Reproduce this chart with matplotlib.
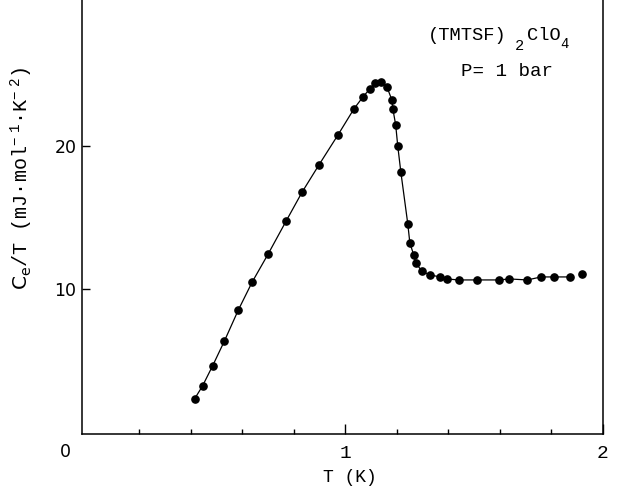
import numpy as np
import matplotlib
matplotlib.use("Agg")
import matplotlib.pyplot as plt
from matplotlib.ticker import FixedLocator, NullFormatter

plt.rcParams["mathtext.fontset"] = "custom"
plt.rcParams["mathtext.rm"] = "Liberation Mono"
plt.rcParams["mathtext.sf"] = "DejaVu Sans"

MONO = "Liberation Mono"

# ----------------------------
# Data: T (K) and Ce/T (mJ mol^-1 K^-2)
# ----------------------------
T_K = [0.414, 0.445, 0.484, 0.530, 0.584, 0.638, 0.700, 0.770, 0.832, 0.897,
       0.971, 1.033, 1.068, 1.095, 1.114, 1.137, 1.161, 1.180, 1.184, 1.195,
       1.203, 1.215, 1.242, 1.250, 1.265, 1.273, 1.296, 1.327, 1.369, 1.393,
       1.439, 1.509, 1.598, 1.636, 1.706, 1.760, 1.810, 1.872]
CE_T = [2.31, 3.22, 4.62, 6.36, 8.53, 10.49, 12.45, 14.76, 16.78, 18.67,
        20.77, 22.59, 23.43, 23.99, 24.41, 24.48, 24.13, 23.22, 22.59, 21.47,
        20.00, 18.18, 14.55, 13.22, 12.38, 11.82, 11.26, 10.98, 10.84, 10.70,
        10.63, 10.63, 10.63, 10.70, 10.63, 10.84, 10.84, 10.84]

# last point drawn without a connecting line
T_LAST = [1.919]
CE_T_LAST = [11.05]

X_MAJOR = [1, 2]
X_MINOR = [0.2, 0.4, 0.6, 0.8, 1.2, 1.4, 1.6, 1.8]
Y_TICKS = [10, 20]


fig = plt.figure(figsize=(6.23, 4.98), dpi=100)
ax = fig.add_axes([82 / 623, 64 / 498, (603 - 82) / 623, 434 / 498])

ax.plot(T_K, CE_T, color="black", linewidth=0.9, marker="o", markersize=5.2,
        markerfacecolor="black", markeredgecolor="black")
ax.plot(T_LAST, CE_T_LAST, linestyle="none", marker="o", markersize=5.2, color="black")

ax.set_xlim(-0.023, 2.0)
ax.set_ylim(-0.14, 30.2)

ax.spines["top"].set_visible(False)
for s in ["left", "right", "bottom"]:
    ax.spines[s].set_linewidth(1.1)

ax.xaxis.set_major_locator(FixedLocator(X_MAJOR))
ax.xaxis.set_minor_locator(FixedLocator(X_MINOR))
ax.xaxis.set_minor_formatter(NullFormatter())
ax.set_xticklabels([str(v) for v in X_MAJOR], fontfamily=MONO, fontsize=14)
ax.tick_params(axis="x", which="major", direction="in", length=7, width=1.0, pad=8)
ax.tick_params(axis="x", which="minor", direction="in", length=3.6, width=1.0)

ax.set_yticks(Y_TICKS)
ax.set_yticklabels([str(v) for v in Y_TICKS], fontfamily="DejaVu Sans", fontsize=12.5)
ax.tick_params(axis="y", direction="in", length=6, width=1.0, pad=4)

# origin label
fig.text(65 / 623, 1 - 452 / 498, "0", fontfamily="DejaVu Sans", fontsize=12.5,
         ha="center", va="center")

fig.text(350 / 623, 1 - 477 / 498, "T (K)", fontfamily=MONO, fontsize=13,
         ha="center", va="center")

fig.text(22 / 623, 1 - 178 / 498,
         "$\\mathsf{C_e}$/T (mJ\u00b7mol$^{-\\ 1}$\u00b7K$^{-\\ 2}$)",
         fontfamily=MONO, fontsize=14.5, rotation=90, ha="center", va="center")

# compound / pressure annotation
fig.text(428 / 623, 1 - 36 / 498, "(TMTSF)", fontfamily=MONO, fontsize=13.5,
         ha="left", va="center")
fig.text(515 / 623, 1 - 46 / 498, "2", fontfamily=MONO, fontsize=11,
         ha="left", va="center")
fig.text(527 / 623, 1 - 36 / 498, "ClO", fontfamily=MONO, fontsize=13.5,
         ha="left", va="center")
fig.text(560 / 623, 1 - 44 / 498, "4", fontfamily=MONO, fontsize=10,
         ha="left", va="center")
fig.text(461 / 623, 1 - 71 / 498, "P= 1 bar", fontfamily=MONO, fontsize=13.8,
         ha="left", va="center")

fig.savefig("out.png", dpi=100)
